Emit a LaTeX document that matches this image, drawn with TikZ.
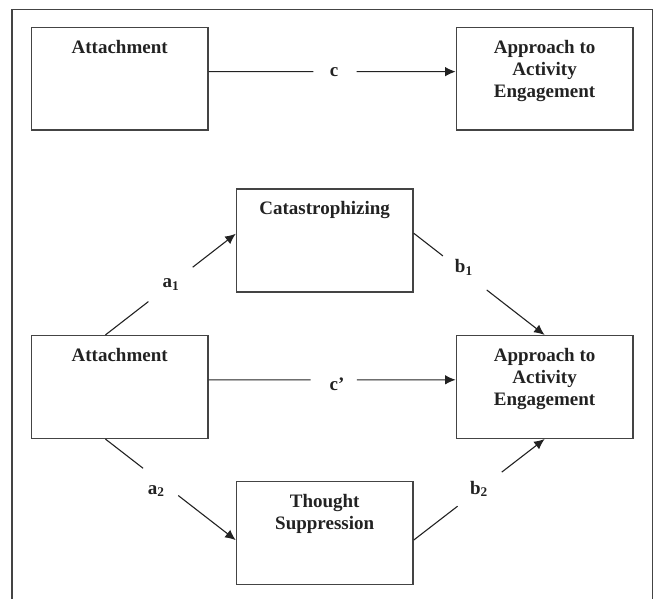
\documentclass[tikz,border=0pt]{standalone}
\usepackage{fontspec}
\setmainfont{Liberation Serif}
\usetikzlibrary{arrows.meta,calc}
\definecolor{ink}{HTML}{222222}
\definecolor{boxink}{HTML}{444444}
\begin{document}
\begin{tikzpicture}[x=1pt,y=-1pt,
  box/.style={draw=boxink,line width=1.5pt,minimum width=176.5pt,minimum height=102.6pt,inner sep=0pt},
  boxtext/.style={anchor=north,align=center,inner sep=0pt,font=\bfseries\fontsize{19}{22}\selectfont,text=ink},
  lab/.style={anchor=base,inner sep=0pt,font=\bfseries\fontsize{19}{22}\selectfont,text=ink},
  frame/.style={draw=boxink,line width=1.3pt},
  link/.style={draw=ink,line width=1.1pt},
  arr/.style={link,-{Latex[length=10.5pt,width=9.5pt]}}]
\useasboundingbox (0,0) rectangle (657,599);
\draw[frame] (12,605) -- (12,9.3) -- (652.3,9.3) -- (652.3,605);

% boxes
\node[box] (A1) at (119.65,78.85) {};
\node[box] (Y1) at (544.6,78.85) {};
\node[box] (Cat) at (324.7,240.5) {};
\node[box] (A2) at (119.65,387) {};
\node[box] (Y2) at (544.6,387) {};
\node[box] (Th) at (324.7,533) {};

% box texts
\node[boxtext] (A1t) at ($(A1.north)+(0,13.1)$) {Attachment};
\node[boxtext] (Y1t) at ($(Y1.north)+(0,13.1)$) {Approach to\\Activity\\Engagement};
\node[boxtext] (Catt) at ($(Cat.north)+(0,13.1)$) {Catastrophizing};
\node[boxtext] (A2t) at ($(A2.north)+(0,13.1)$) {Attachment};
\node[boxtext] (Y2t) at ($(Y2.north)+(0,13.1)$) {Approach to\\Activity\\Engagement};
\node[boxtext] (Tht) at ($(Th.north)+(0,13.1)$) {Thought\\Suppression};

% endpoints
\coordinate (cs) at ($(A1.east)+(0,-7.2)$);
\coordinate (ce) at ($(Y1.west)+(0,-7.2)$);
\coordinate (cps) at ($(A2.east)+(0,-7.2)$);
\coordinate (cpe) at ($(Y2.west)+(0,-7.2)$);
\coordinate (a1s) at ($(A2.north west)!0.42!(A2.north east)$);
\coordinate (a1e) at ($(Cat.north west)!0.436!(Cat.south west)$);
\coordinate (b1s) at ($(Cat.north east)!0.43!(Cat.south east)$);
\coordinate (b1e) at (Y2.north);
\coordinate (a2s) at ($(A2.south west)!0.42!(A2.south east)$);
\coordinate (a2e) at ($(Th.north west)!0.568!(Th.south west)$);
\coordinate (b2s) at ($(Th.north east)!0.568!(Th.south east)$);
\coordinate (b2e) at (Y2.south);

% connectors (broken around their labels)
\draw[link] (cs) -- ($(cs)!0.4245!(ce)$);
\draw[arr] ($(cs)!0.5996!(ce)$) -- (ce);
\draw[link] (cps) -- ($(cps)!0.413!(cpe)$);
\draw[arr] ($(cps)!0.6!(cpe)$) -- (cpe);
\draw[link] (a1s) -- ($(a1s)!0.33!(a1e)$);
\draw[arr] ($(a1s)!0.67!(a1e)$) -- (a1e);
\draw[link] (b1s) -- ($(b1s)!0.223!(b1e)$);
\draw[arr] ($(b1s)!0.558!(b1e)$) -- (b1e);
\draw[link] (a2s) -- ($(a2s)!0.289!(a2e)$);
\draw[arr] ($(a2s)!0.559!(a2e)$) -- (a2e);
\draw[link] (b2s) -- ($(b2s)!0.335!(b2e)$);
\draw[arr] ($(b2s)!0.673!(b2e)$) -- (b2e);

% labels
\node[lab] (lc) at (334,77) {c};
\node[lab] (lcp) at (337,390) {c'};
\node[lab] (la1) at (171,287.7) {a\textsubscript{1}};
\node[lab] (lb1) at (463.8,272.7) {b\textsubscript{1}};
\node[lab] (la2) at (156.3,494) {a\textsubscript{2}};
\node[lab] (lb2) at (479,494) {b\textsubscript{2}};
\end{tikzpicture}
\end{document}
